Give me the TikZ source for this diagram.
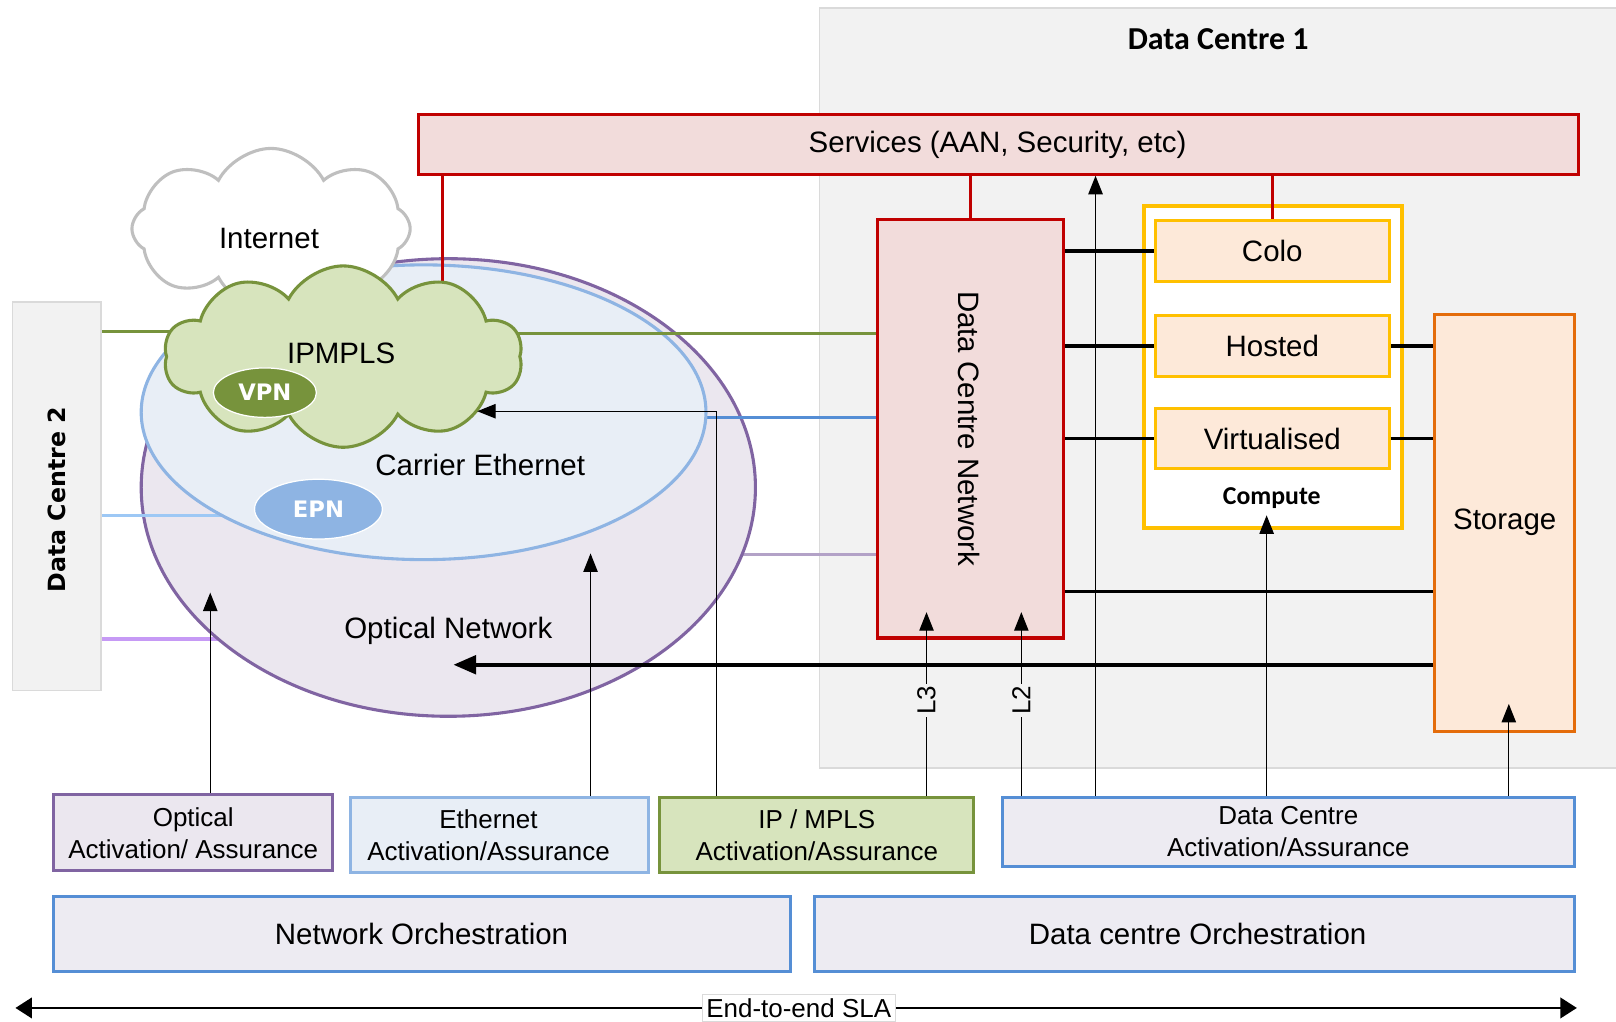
\documentclass[tikz,border=0pt]{standalone}
\usepackage{fontspec}
\setmainfont{Liberation Sans}
\newfontfamily\calib{Carlito}
\newfontfamily\dejab{DejaVu Sans}
\usetikzlibrary{shapes.geometric,shapes.symbols,arrows.meta,fit}
\definecolor{dcbg}{HTML}{F2F2F2}
\definecolor{dcline}{HTML}{DADADA}
\definecolor{redA}{HTML}{C00000}
\definecolor{pinkA}{HTML}{F2DCDB}
\definecolor{goldA}{HTML}{FFC000}
\definecolor{peachA}{HTML}{FDE9D9}
\definecolor{orngA}{HTML}{E46C0A}
\definecolor{purpA}{HTML}{8064A2}
\definecolor{purpfill}{HTML}{EBE7EF}
\definecolor{lblueA}{HTML}{8EB4E3}
\definecolor{lbluefill}{HTML}{E8EEF6}
\definecolor{grnA}{HTML}{77933C}
\definecolor{grnfill}{HTML}{D7E4BD}
\definecolor{mblueA}{HTML}{558ED5}
\definecolor{lavfill}{HTML}{EDEBF2}
\definecolor{skyA}{HTML}{9DC8F5}
\definecolor{lilacA}{HTML}{C69AF5}
\definecolor{lpurpA}{HTML}{B3A2C7}
\definecolor{cloudgray}{HTML}{BFBFBF}
\begin{document}
\begin{tikzpicture}[x=0.5pt,y=-0.5pt,
  every node/.style={font=\fontsize{14.3}{17}\selectfont},
  box/.style={draw, line width=1.5pt, inner sep=0pt, align=center},
  small/.style={font=\fontsize{12.6}{15.5}\selectfont},
  conn/.style={line width=1.5pt},
  blk/.style={line width=1.8pt, black},
  thinarrow/.style={line width=0.6pt, -{Triangle[length=9pt,width=7pt]}},
  redline/.style={line width=1.5pt, redA},
  bubble/.style={ellipse, draw=white, line width=0.6pt, inner sep=0pt, text=white, font=\dejab\bfseries\fontsize{11}{13}\selectfont}
]
\useasboundingbox (0,0) rectangle (1568,991);

% data centre backgrounds
\node[box, line width=0.8pt, draw=dcline, fill=dcbg, fit={(795,8)(1600,745)}] (dc1) {};
\node[font=\calib\bfseries\fontsize{15.5}{18}\selectfont] (dc1t) at (1182,38) {Data Centre 1};
\node[box, line width=0.8pt, draw=dcline, fill=dcbg, fit={(12,293)(98,670)}] (dc2) {};
\node[rotate=90, font=\dejab\bfseries\fontsize{11.5}{14}\selectfont] (dc2t) at (55,485) {Data Centre 2};

% services
\node[box, draw=redA, fill=pinkA, fit={(406,111)(1532,169)}] (services) {};
\node (servt) at (968,141) {Services (AAN, Security, etc)};

% coordinates for connectors
\coordinate (lpR) at (700,538);
\coordinate (liL) at (212,620);
\coordinate (skL) at (250,500);
\coordinate (mbR) at (650,405);
\coordinate (gL) at (210,322);
\coordinate (gR) at (480,324);

% DCN and lines behind optical ellipse
\node[box, draw=redA, fill=pinkA, fit={(851,213)(1032,619)}] (dcn) {};
\node[rotate=-90] (dcnt) at (940,416) {Data Centre Network};
\draw[conn, lpurpA] (dcn.west |- lpR) -- (lpR);
\draw[conn, lilacA] (dc2.east |- liL) -- (liL);

\node[ellipse, draw=purpA, fill=purpfill, line width=1.5pt, inner sep=0pt,
      minimum width=298pt, minimum height=222pt] (optical) at (435,473) {};

\draw[conn, skyA] (dc2.east |- skL) -- (skL);
\draw[conn, mblueA] (dcn.west |- mbR) -- (mbR);

\node[ellipse, draw=lblueA, fill=lbluefill, line width=1.5pt, inner sep=0pt,
      minimum width=274pt, minimum height=143pt] (carrier) at (411,400) {};

\draw[conn, grnA] (dc2.east |- gL) -- (gL);
\draw[conn, grnA] (gR) -- (dcn.west |- gR);

% red line to cloud
\coordinate (r1) at (429,300);
\draw[redline] (services.south -| r1) -- (r1);

% clouds
\node[cloud, cloud puffs=8, cloud puff arc=125, cloud ignores aspect, draw=cloudgray, fill=white,
      line width=1.5pt, minimum width=135pt, minimum height=78pt, inner sep=0pt] (internet) at (263,222) {};
\node (internett) at (261,231) {Internet};
\node[cloud, cloud puffs=10, cloud puff arc=125, cloud ignores aspect, draw=grnA, fill=grnfill,
      line width=1.5pt, minimum width=174pt, minimum height=88pt, inner sep=0pt] (ipmpls) at (333,346) {};
\node (ipmplst) at (331,343) {IPMPLS};
\node[bubble, fill=grnA, minimum width=50pt, minimum height=24pt] (vpn) at (257,381) {VPN};
\node[bubble, fill=lblueA, minimum width=62pt, minimum height=29pt] (epn) at (309,494) {EPN};
\node (carriert) at (466,451) {Carrier Ethernet};
\node (opticalt) at (435,612) {Optical Network};

% compute
\node[box, line width=2pt, draw=goldA, fill=white, fit={(1110,200)(1360,512)}] (compute) {};
\node[box, draw=goldA, fill=peachA, fit={(1121,214)(1348,273)}, label=center:Colo] (colo) {};
\node[box, draw=goldA, fill=peachA, fit={(1121,306)(1348,365)}, label=center:Hosted] (hosted) {};
\node[box, draw=goldA, fill=peachA, fit={(1121,396)(1348,455)}, label=center:Virtualised] (virt) {};
\node[font=\calib\bfseries\fontsize{12.5}{15}\selectfont] (computet) at (1234,483) {Compute};
\node[box, draw=orngA, fill=peachA, fit={(1392,305)(1528,710)}] (storage) {};
\node (storaget) at (1460,507) {Storage};

% red lines
\draw[redline] (services.south -| dcn.north) -- (dcn.north);
\draw[redline] (services.south -| colo.north) -- (colo.north);

% black links
\coordinate (s1) at (1100,574);
\coordinate (s2) at (440,645);
\draw[blk] (dcn.east |- colo.west) -- (colo.west);
\draw[blk] (dcn.east |- hosted.west) -- (hosted.west);
\draw[blk] (dcn.east |- virt.west) -- (virt.west);
\draw[blk] (hosted.east) -- (hosted.east -| storage.west);
\draw[blk] (virt.east) -- (virt.east -| storage.west);
\draw[blk] (dcn.east |- s1) -- (storage.west |- s1);
\draw[blk, -{Triangle[length=11pt,width=9pt]}] (storage.west |- s2) -- (s2);

% bottom boxes
\node[box, draw=purpA, fill=purpfill, fit={(52,771)(323,845)}] (optaa) {};
\node[small, align=center] (optaat) at (optaa.center) {Optical\\Activation/ Assurance};
\node[box, draw=lblueA, fill=lbluefill, fit={(340,774)(629,847)}] (ethaa) {};
\node[small, align=center] (ethaat) at (474,810) {Ethernet\\Activation/Assurance};
\node[box, draw=grnA, fill=grnfill, fit={(640,774)(945,847)}] (ipaa) {};
\node[small, align=center] (ipaat) at (ipaa.center) {IP / MPLS\\Activation/Assurance};
\node[box, draw=mblueA, fill=lavfill, fit={(973,774)(1528,841)}] (dcaa) {};
\node[small, align=center] (dcaat) at (1250,807) {Data Centre\\Activation/Assurance};
\node[box, draw=mblueA, fill=lavfill, fit={(52,870)(767,943)}] (netorch) {};
\node (netorcht) at (409,906) {Network Orchestration};
\node[box, draw=mblueA, fill=lavfill, fit={(790,870)(1528,943)}] (dcorch) {};
\node (dcorcht) at (1162,906) {Data centre Orchestration};

% activation arrows
\coordinate (a1) at (204,575);
\coordinate (a2) at (573,537);
\coordinate (a3b) at (695,399);
\coordinate (a3) at (463,399);
\coordinate (l3) at (899,594);
\coordinate (l2) at (991,594);
\coordinate (sv) at (1063,300);
\coordinate (c1) at (1229,500);
\coordinate (st1) at (1464,683);
\draw[thinarrow] (optaa.north -| a1) -- (a1);
\draw[thinarrow] (ethaa.north -| a2) -- (a2);
\draw[thinarrow] (ipaa.north -| a3b) -- (a3b) -- (a3);
\draw[thinarrow] (ipaa.north -| l3) -- node[pos=0.52, rotate=90, fill=dcbg, small, inner sep=1pt] (l3t) {L3} (l3);
\draw[thinarrow] (dcaa.north -| l2) -- node[pos=0.52, rotate=90, fill=dcbg, small, inner sep=1pt] (l2t) {L2} (l2);
\draw[thinarrow] (dcaa.north -| sv) -- (services.south -| sv);
\draw[thinarrow] (dcaa.north -| c1) -- (c1);
\draw[thinarrow] (dcaa.north -| st1) -- (st1);

% SLA
\coordinate (sl) at (15,978);
\coordinate (sr) at (1530,978);
\draw[line width=1pt, {Triangle[length=8pt,width=10pt]}-{Triangle[length=8pt,width=10pt]}] (sl) -- (sr);
\node[small, fill=white, draw=dcline, line width=0.5pt, inner sep=2pt] (sla) at (775,978) {End-to-end SLA};
\end{tikzpicture}
\end{document}
